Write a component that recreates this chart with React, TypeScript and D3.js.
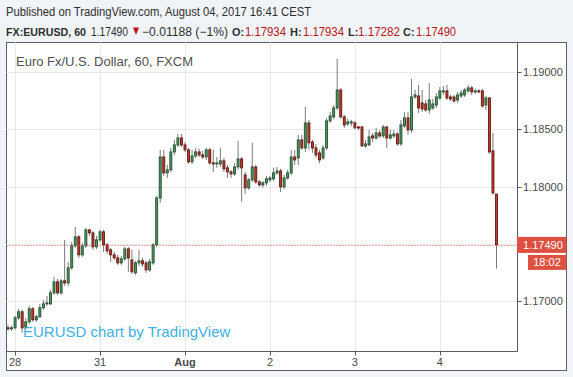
import React from "react";
import * as d3 from "d3";

const open = [
  1.16766, 1.16757, 1.16766, 1.16853, 1.16906, 1.16775, 1.16818, 1.16932, 1.16836, 1.16862,
  1.16941, 1.16975, 1.16975, 1.17071, 1.17167, 1.17071, 1.17176, 1.17158, 1.1729, 1.17482,
  1.1756, 1.17403, 1.17482, 1.17621, 1.17595, 1.17473, 1.17534, 1.17604, 1.1749, 1.17447,
  1.17403, 1.17377, 1.17333, 1.17368, 1.17455, 1.17359, 1.17246, 1.17333, 1.17351, 1.17333,
  1.17272, 1.17333, 1.1749, 1.179, 1.18258, 1.18119, 1.18145, 1.18302, 1.18363, 1.18424,
  1.18363, 1.1832, 1.18215, 1.18267, 1.18302, 1.18276, 1.18258, 1.1832, 1.18206, 1.18197,
  1.18197, 1.18224, 1.18163, 1.18128, 1.1811, 1.18171, 1.18241, 1.18101, 1.17988, 1.18058,
  1.18171, 1.1804, 1.18014, 1.18032, 1.18058, 1.18067, 1.18119, 1.18136, 1.17997, 1.18075,
  1.18119, 1.18258, 1.1825, 1.18407, 1.18337, 1.18555, 1.18389, 1.18337, 1.18293, 1.1825,
  1.18337, 1.18573, 1.18608, 1.18686, 1.18843, 1.18608, 1.18547, 1.18555, 1.18555, 1.1852,
  1.1852, 1.18354, 1.18363, 1.18442, 1.18424, 1.18468, 1.18442, 1.1852, 1.18424, 1.18442,
  1.18459, 1.18372, 1.18529, 1.18599, 1.18494, 1.18782, 1.18791, 1.1873, 1.18721, 1.18669,
  1.18686, 1.18712, 1.18773, 1.18826, 1.18835, 1.18782, 1.18782, 1.18756, 1.18791, 1.188,
  1.18835, 1.18861, 1.18826, 1.18835, 1.18835, 1.18712, 1.18773, 1.18311, 1.17934,
];
const high = [
  1.16792, 1.16784, 1.16871, 1.16932, 1.16923, 1.16853, 1.16958, 1.16949, 1.16879, 1.16975,
  1.1701, 1.17045, 1.17097, 1.17211, 1.17193, 1.17193, 1.17534, 1.17342, 1.17516, 1.17647,
  1.17577, 1.17508, 1.17639, 1.1763, 1.17612, 1.17569, 1.17621, 1.17621, 1.17508, 1.17464,
  1.17429, 1.17403, 1.17394, 1.17473, 1.17473, 1.17447, 1.17351, 1.17447, 1.17377, 1.17351,
  1.17368, 1.17508, 1.17918, 1.1832, 1.1832, 1.18189, 1.18337, 1.18407, 1.18459, 1.18459,
  1.18389, 1.18337, 1.1832, 1.18337, 1.18328, 1.18311, 1.18337, 1.18337, 1.1832, 1.18258,
  1.18337, 1.1825, 1.18189, 1.18145, 1.18206, 1.18398, 1.18258, 1.18128, 1.18075, 1.18381,
  1.18189, 1.18058, 1.18049, 1.18093, 1.18093, 1.18163, 1.18171, 1.18154, 1.18101, 1.18145,
  1.1832, 1.1832, 1.18451, 1.18451, 1.18695, 1.18582, 1.18407, 1.18372, 1.1832, 1.18363,
  1.18599, 1.18651, 1.18712, 1.19114, 1.18861, 1.18625, 1.1859, 1.18582, 1.18573, 1.18529,
  1.18529, 1.18407, 1.18494, 1.18468, 1.18512, 1.18494, 1.18538, 1.18529, 1.18494, 1.18494,
  1.18477, 1.18582, 1.18651, 1.18651, 1.18939, 1.18843, 1.18887, 1.18843, 1.18756, 1.18904,
  1.18765, 1.18817, 1.18869, 1.18878, 1.18887, 1.188, 1.188, 1.18826, 1.18843, 1.18861,
  1.18887, 1.18878, 1.18852, 1.18852, 1.18852, 1.18791, 1.18782, 1.18468, 1.17934,
];
const low = [
  1.1674, 1.1674, 1.16749, 1.16836, 1.16722, 1.16757, 1.16801, 1.16818, 1.16818, 1.16853,
  1.16923, 1.16958, 1.16966, 1.17054, 1.17054, 1.17054, 1.17132, 1.17132, 1.17272, 1.17464,
  1.17377, 1.17386, 1.17464, 1.17569, 1.17447, 1.17455, 1.17516, 1.17429, 1.17412, 1.17342,
  1.17359, 1.17316, 1.17316, 1.17351, 1.17255, 1.17237, 1.17228, 1.17307, 1.17298, 1.17246,
  1.17255, 1.17316, 1.17473, 1.17857, 1.18093, 1.18075, 1.18128, 1.18276, 1.18346, 1.18346,
  1.18302, 1.18197, 1.18197, 1.1825, 1.18258, 1.18241, 1.18232, 1.18189, 1.18128, 1.18163,
  1.18171, 1.18128, 1.18075, 1.18075, 1.18093, 1.18145, 1.17866, 1.17935, 1.17971, 1.1804,
  1.18023, 1.17997, 1.17988, 1.18006, 1.1804, 1.18049, 1.18101, 1.17953, 1.17979, 1.18058,
  1.18101, 1.18189, 1.18189, 1.1832, 1.18302, 1.1832, 1.18293, 1.1825, 1.18206, 1.18232,
  1.1832, 1.18555, 1.1859, 1.18669, 1.1859, 1.18512, 1.18529, 1.18529, 1.18503, 1.18494,
  1.18346, 1.18337, 1.18354, 1.18389, 1.18407, 1.18424, 1.18424, 1.18337, 1.18407, 1.18424,
  1.18354, 1.18354, 1.18512, 1.18451, 1.18468, 1.18765, 1.18643, 1.18651, 1.18651, 1.18634,
  1.18669, 1.18686, 1.18756, 1.188, 1.18756, 1.18747, 1.1873, 1.1873, 1.18773, 1.18782,
  1.18817, 1.188, 1.18808, 1.18817, 1.18686, 1.18669, 1.18285, 1.17927, 1.17282,
];
const close = [
  1.16757, 1.16766, 1.16853, 1.16906, 1.16766, 1.16818, 1.16932, 1.16836, 1.16862, 1.16941,
  1.16975, 1.16984, 1.17071, 1.17167, 1.17071, 1.17176, 1.17158, 1.1729, 1.17482, 1.1756,
  1.17403, 1.17482, 1.17621, 1.17595, 1.17473, 1.17534, 1.17604, 1.1749, 1.17438, 1.17403,
  1.17377, 1.17333, 1.17368, 1.17455, 1.17377, 1.17255, 1.17333, 1.17351, 1.17324, 1.17272,
  1.17342, 1.1749, 1.179, 1.18258, 1.18119, 1.18145, 1.18302, 1.18363, 1.18424, 1.18363,
  1.1832, 1.18215, 1.18267, 1.18302, 1.18276, 1.18258, 1.1832, 1.18206, 1.18197, 1.18206,
  1.18224, 1.18154, 1.18128, 1.1811, 1.18171, 1.18241, 1.18163, 1.17988, 1.18058, 1.18171,
  1.1804, 1.18014, 1.18032, 1.18067, 1.18075, 1.18119, 1.18136, 1.17997, 1.18075, 1.18119,
  1.18258, 1.18232, 1.18407, 1.18337, 1.18555, 1.18381, 1.18337, 1.18276, 1.18232, 1.18337,
  1.18573, 1.18616, 1.18686, 1.18843, 1.18608, 1.18538, 1.18564, 1.18564, 1.18512, 1.18512,
  1.18354, 1.18372, 1.18433, 1.18424, 1.18468, 1.18442, 1.1852, 1.18424, 1.18451, 1.18459,
  1.18372, 1.18538, 1.18599, 1.18494, 1.18782, 1.188, 1.18686, 1.18677, 1.18669, 1.18756,
  1.18721, 1.18782, 1.18835, 1.18835, 1.18773, 1.18765, 1.18747, 1.188, 1.18817, 1.18843,
  1.18861, 1.18826, 1.18835, 1.1883, 1.18704, 1.18773, 1.18302, 1.17944, 1.1749,
];

const dayTicks = [2, 26, 50, 74, 98, 122];
const dayLabels = ["28", "31", "Aug", "2", "3", "4"];
const priceTicks = [1.17, 1.175, 1.18, 1.185, 1.19];
const lastPrice = 1.1749;
const lastPriceLabel = "1.17490";
const countdown = "18:02";
const headerLine = "Published on TradingView.com, August 04, 2017 16:41 CEST";
const symbolTitle = "Euro Fx/U.S. Dollar, 60, FXCM";
const watermark = "EURUSD chart by TradingView";

const FONT = "'Liberation Sans', Arial, sans-serif";

export default function App() {
  const W = 573;
  const H = 377;
  const left = 6.5;
  const top = 42.5;
  const plotR = 517.5;
  const plotB = 351.5;
  const boxR = 566.5;
  const boxB = 370.5;

  const x = d3.scaleLinear().domain([0, open.length - 1]).range([8, 496.5]);
  const y = d3.scaleLinear().domain([1.17, 1.19]).range([301, 72]);
  const fmt = d3.format(".5f");

  const upFill = "#4f975f";
  const upStroke = "#245234";
  const dnFill = "#c13a2c";
  const dnStroke = "#641a12";
  const wick = "#7a7a7a";
  const red = "#de5141";
  const grid = "#e8e8e8";
  const axisCol = "#5b5b5b";
  const txt = "#4a4a4a";

  const yl = y(lastPrice);

  return (
    <div style={{ position: "fixed", left: 0, top: 0 }}>
      <svg width={W} height={H} style={{ display: "block" }}>
        <rect x={0} y={0} width={W} height={H} fill="#f0f3f7" />
        {/* header */}
        <text x={6} y={16} fontFamily={FONT} fontSize={12} fill="#2f2f2f" textLength={305} lengthAdjust="spacingAndGlyphs">
          {headerLine}
        </text>
        <g fontFamily={FONT} fontSize={11} fill="#2f2f2f">
          <text x={6} y={36} fontWeight="bold" textLength={80} lengthAdjust="spacingAndGlyphs">FX:EURUSD, 60</text>
          <text x={91} y={36} fontSize={12} textLength={37} lengthAdjust="spacingAndGlyphs">1.17490</text>
          <path d="M133,27.5 L139,27.5 L136,35 Z" fill="#b8161a" />
          <text x={142} y={36} fontSize={12} textLength={86} lengthAdjust="spacingAndGlyphs">−0.01188 (−1%)</text>
          <text x={232} y={36} fontWeight="bold">O:</text>
          <text x={245} y={36} fontSize={12} fill="#b8161a" textLength={41} lengthAdjust="spacingAndGlyphs">1.17934</text>
          <text x={290} y={36} fontWeight="bold">H:</text>
          <text x={303} y={36} fontSize={12} fill="#b8161a" textLength={41} lengthAdjust="spacingAndGlyphs">1.17934</text>
          <text x={348} y={36} fontWeight="bold">L:</text>
          <text x={358} y={36} fontSize={12} fill="#b8161a" textLength={42} lengthAdjust="spacingAndGlyphs">1.17282</text>
          <text x={403} y={36} fontWeight="bold">C:</text>
          <text x={416} y={36} fontSize={12} fill="#b8161a" textLength={40} lengthAdjust="spacingAndGlyphs">1.17490</text>
        </g>

        {/* chart box */}
        <rect x={left} y={top} width={boxR - left} height={boxB - top} fill="#fff" stroke="#5d5d5d" strokeWidth={1} />

        {/* grid */}
        <g stroke={grid} strokeWidth={1}>
          {priceTicks.map((p) => (
            <line key={"h" + p} x1={left} x2={plotR} y1={Math.round(y(p)) + 0.5} y2={Math.round(y(p)) + 0.5} />
          ))}
          {dayTicks.map((d) => (
            <line key={"v" + d} x1={Math.round(x(d)) + 0.5} x2={Math.round(x(d)) + 0.5} y1={top} y2={plotB} />
          ))}
        </g>

        {/* title and watermark */}
        <text x={16} y={66} fontFamily={FONT} fontSize={13} fill="#505050">{symbolTitle}</text>
        <text x={23} y={337} fontFamily={FONT} fontSize={15} fill="#3fb0e4">{watermark}</text>

        {/* candles */}
        <g>
          {open.map((o, i) => {
            const c = close[i];
            const up = c >= o;
            const cx = x(i);
            const yt = y(Math.max(o, c));
            const yb = y(Math.min(o, c));
            return (
              <g key={i}>
                <line x1={cx} x2={cx} y1={y(high[i])} y2={y(low[i])} stroke={wick} strokeWidth={1} />
                <rect
                  x={cx - 1}
                  y={yt}
                  width={2}
                  height={Math.max(1, yb - yt)}
                  fill={up ? upFill : dnFill}
                  stroke={up ? upStroke : dnStroke}
                  strokeWidth={0.9}
                />
              </g>
            );
          })}
        </g>

        {/* last price line */}
        <line x1={left} x2={plotR} y1={Math.round(yl) + 0.5} y2={Math.round(yl) + 0.5} stroke="#e8584a" strokeWidth={1} strokeDasharray="1,2" />

        {/* axes */}
        <line x1={plotR} x2={plotR} y1={top} y2={plotB} stroke={axisCol} strokeWidth={1} />
        <line x1={left} x2={plotR} y1={plotB} y2={plotB} stroke={axisCol} strokeWidth={1} />

        <g fontFamily={FONT} fontSize={11} fill={txt}>
          {priceTicks.map((p) => (
            <g key={"yl" + p}>
              <line x1={plotR} x2={plotR + 4} y1={Math.round(y(p)) + 0.5} y2={Math.round(y(p)) + 0.5} stroke={axisCol} />
              <text x={523} y={y(p) + 4}>{fmt(p)}</text>
            </g>
          ))}
          {dayTicks.map((d, k) => (
            <g key={"xl" + d}>
              <line x1={Math.round(x(d)) + 0.5} x2={Math.round(x(d)) + 0.5} y1={plotB} y2={plotB + 4} stroke={axisCol} />
              <text x={x(d)} y={366} textAnchor="middle" fontWeight={dayLabels[k] === "Aug" ? "bold" : "normal"}>
                {dayLabels[k]}
              </text>
            </g>
          ))}
        </g>

        {/* price label boxes */}
        <rect x={plotR - 0.5} y={yl - 8} width={boxR - plotR + 0.5} height={16} fill={red} />
        <text x={523} y={yl + 4} fontFamily={FONT} fontSize={11} fill="#fff">{lastPriceLabel}</text>
        <rect x={528} y={yl + 10} width={boxR - 528} height={15} fill={red} />
        <text x={547} y={yl + 21.5} fontFamily={FONT} fontSize={11} fill="#fff" textAnchor="middle">{countdown}</text>
      </svg>
    </div>
  );
}
